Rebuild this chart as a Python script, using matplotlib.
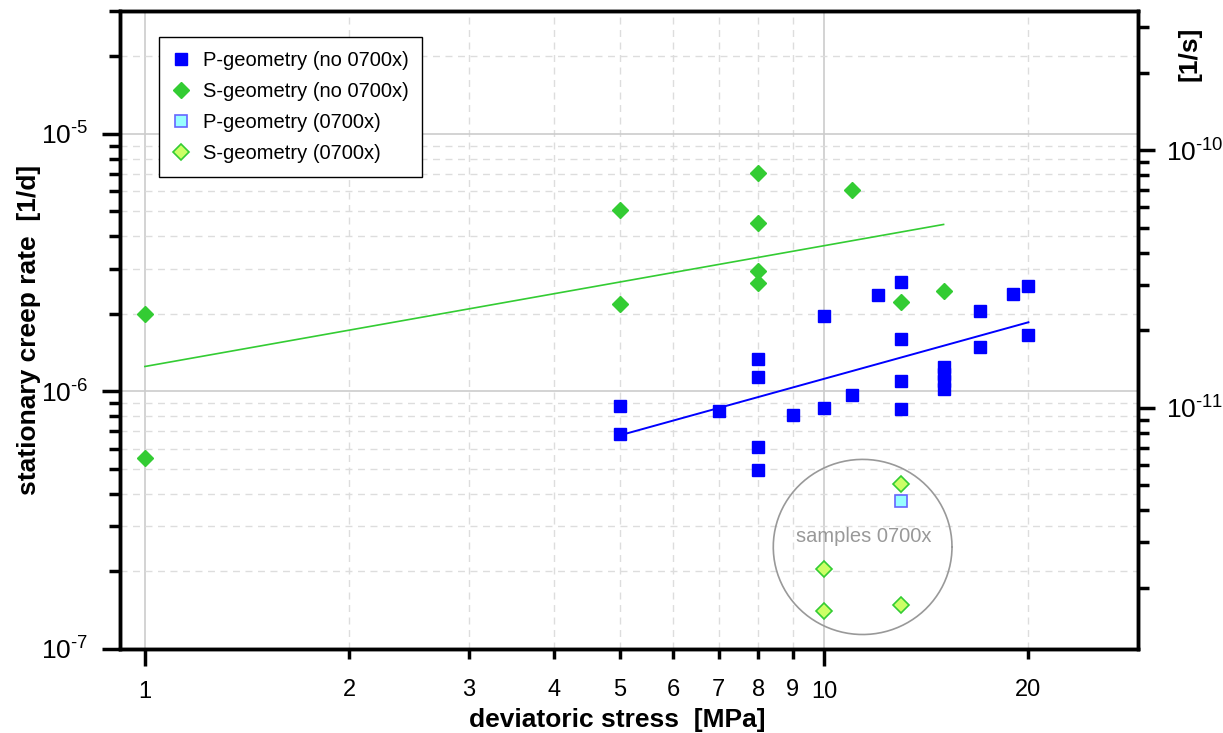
import numpy as np
import matplotlib
matplotlib.use("Agg")
import matplotlib.pyplot as plt
from matplotlib.ticker import (FixedLocator, FixedFormatter, NullFormatter,
                               LogLocator, FuncFormatter)

plt.rcParams['font.family'] = ['Liberation Sans', 'DejaVu Sans']
plt.rcParams['mathtext.default'] = 'regular'

SECONDS_PER_DAY = 86400.0

# P-geometry samples (without 0700x): stress [MPa], creep rate [1/d]
p_stress = [5, 5, 7, 8, 8, 8, 8, 9, 10, 10, 11, 12, 13, 13, 13, 13,
            15, 15, 15, 15, 17, 17, 19, 20, 20]
p_rate = [8.75e-7, 6.86e-7, 8.37e-7, 1.34e-6, 1.14e-6, 6.08e-7, 4.94e-7,
          8.12e-7, 1.97e-6, 8.59e-7, 9.73e-7, 2.37e-6, 2.65e-6, 1.60e-6,
          1.10e-6, 8.55e-7, 1.245e-6, 1.164e-6, 1.093e-6, 1.022e-6,
          2.06e-6, 1.49e-6, 2.39e-6, 2.57e-6, 1.65e-6]

# S-geometry samples (without 0700x)
s_stress = [1, 1, 5, 5, 8, 8, 8, 8, 11, 13, 15]
s_rate = [2.0e-6, 5.5e-7, 5.05e-6, 2.19e-6, 7.02e-6, 4.52e-6, 2.94e-6,
          2.63e-6, 6.05e-6, 2.23e-6, 2.46e-6]

# samples 0700x
p07_stress = [13]
p07_rate = [3.76e-7]
s07_stress = [13, 10, 10, 13]
s07_rate = [4.36e-7, 2.05e-7, 1.40e-7, 1.48e-7]

# power-law fits (end points)
p_fit_stress = [5, 20]
p_fit_rate = [6.75e-7, 1.856e-6]
s_fit_stress = [1, 15]
s_fit_rate = [1.25e-6, 4.45e-6]


def pow10_label(v, pos):
    # 10^-n with a short hyphen in the exponent
    e = int(round(np.log10(v)))
    sign = '\u2010' if e < 0 else ''
    return '10$^{%s%d}$' % (sign, abs(e))


fig = plt.figure(figsize=(12.23, 7.33), dpi=100)
ax = fig.add_axes([120 / 1223, 84 / 733, 1018 / 1223, 638 / 733])

ax.set_xscale('log')
ax.set_yscale('log')
ax.set_xlim(0.919, 29.0)
ax.set_ylim(1e-7, 3e-5)

# grid
ax.grid(True, which='major', color='#cccccc', lw=1.2, ls='-')
ax.grid(True, which='minor', color='#dddddd', lw=1.0, ls=(0, (5, 4)))
ax.set_axisbelow(True)

# fit lines
ax.plot(s_fit_stress, s_fit_rate, color='#33cc33', lw=1.2, zorder=2)
ax.plot(p_fit_stress, p_fit_rate, color='#0000ff', lw=1.4, zorder=2)

ax.plot(p_stress, p_rate, ls='none', marker='s', ms=9, color='#0000ff',
        mec='#0000ff', label='P-geometry (no 0700x)', zorder=3)
ax.plot(s_stress, s_rate, ls='none', marker='D', ms=8.5, color='#33cc33',
        mec='#33cc33', label='S-geometry (no 0700x)', zorder=3)
ax.plot(p07_stress, p07_rate, ls='none', marker='s', ms=8.5, mfc='#99ffff',
        mec='#6666ff', mew=1.2, label='P-geometry (0700x)', zorder=3)
ax.plot(s07_stress, s07_rate, ls='none', marker='D', ms=8, mfc='#ccff66',
        mec='#33cc33', mew=1.2, label='S-geometry (0700x)', zorder=3)

# circle around the 0700x samples (drawn in log space)
t = np.linspace(0, 2 * np.pi, 200)
cx, cy = np.log10(11.4), np.log10(2.49e-7)
ax.plot(10 ** (cx + 0.1316 * np.cos(t)), 10 ** (cy + 0.34 * np.sin(t)),
        color='#999999', lw=1.2, zorder=2)
ax.text(11.43, 2.74e-7, 'samples 0700x', color='#999999', fontsize=14.5,
        ha='center', va='center')

# x ticks: long ticks at decades, short labelled ticks in between
ax.xaxis.set_major_locator(FixedLocator([1, 10]))
ax.xaxis.set_major_formatter(FixedFormatter(['1', '10']))
minor_x = [2, 3, 4, 5, 6, 7, 8, 9, 20]
ax.xaxis.set_minor_locator(FixedLocator(minor_x))
ax.xaxis.set_minor_formatter(FixedFormatter([str(v) for v in minor_x]))
ax.tick_params(axis='x', which='major', length=12, width=2.5, pad=11,
               labelsize=17, direction='out', top=False)
ax.tick_params(axis='x', which='minor', length=7, width=2.5, pad=14.6,
               labelsize=17, direction='out', top=False)

ax.yaxis.set_major_formatter(FuncFormatter(pow10_label))
ax.yaxis.set_minor_locator(LogLocator(base=10, subs=np.arange(2, 10)))
ax.yaxis.set_minor_formatter(NullFormatter())
ax.tick_params(axis='y', which='major', length=13, width=2.5, pad=10,
               labelsize=19, direction='out')
ax.tick_params(axis='y', which='minor', length=8, width=2.5, direction='out')

for sp in ax.spines.values():
    sp.set_linewidth(2.5)

ax.set_xlabel('deviatoric stress  [MPa]', fontsize=19, fontweight='bold')
ax.set_ylabel('stationary creep rate  [1/d]', fontsize=19, fontweight='bold')
ax.xaxis.set_label_coords(0.488, -0.092)
ax.yaxis.set_label_coords(-0.0776, 0.5)

# right axis in 1/s
ax2 = ax.twinx()
ax2.set_yscale('log')
ax2.set_ylim(1e-7 / SECONDS_PER_DAY, 3e-5 / SECONDS_PER_DAY)
ax2.yaxis.set_major_formatter(FuncFormatter(pow10_label))
ax2.yaxis.set_minor_locator(LogLocator(base=10, subs=np.arange(2, 10)))
ax2.yaxis.set_minor_formatter(NullFormatter())
ax2.tick_params(axis='y', which='major', length=12, width=2.5, pad=8,
                labelsize=19, direction='out')
ax2.tick_params(axis='y', which='minor', length=8, width=2.5, direction='out')
for sp in ax2.spines.values():
    sp.set_linewidth(2.5)
ax2.set_ylabel('[1/s]', fontsize=19, fontweight='bold', loc='top')
ax2.yaxis.set_label_coords(1.039, 0.975)

leg = ax.legend(loc='upper left', bbox_to_anchor=(0.0386, 0.9597),
                borderaxespad=0, fontsize=14.5, fancybox=False,
                edgecolor='black', framealpha=1, numpoints=1,
                handlelength=0.8, handletextpad=0.65, labelspacing=0.6,
                borderpad=0.7)
leg.get_frame().set_linewidth(1.0)

fig.savefig('out.png', dpi=100)
